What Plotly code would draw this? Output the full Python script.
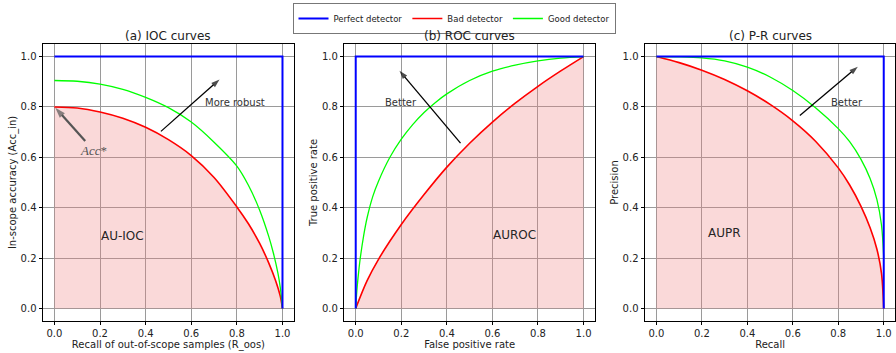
import plotly.graph_objects as go
from plotly.subplots import make_subplots

# ---- axis ticks shared by all three panels ----
tick_vals = [0.0, 0.2, 0.4, 0.6, 0.8, 1.0]
tick_text = ["0.0", "0.2", "0.4", "0.6", "0.8", "1.0"]

# ---- (a) IOC curves: in-scope accuracy vs recall of out-of-scope samples ----
ioc_perfect_x = [0.0, 1.0, 1.0]
ioc_perfect_y = [1.0, 1.0, 0.0]
ioc_bad_x = [0.0, 0.1, 0.2, 0.3, 0.4, 0.5, 0.6, 0.7, 0.8, 0.85, 0.9, 0.94, 0.97, 0.99, 1.0]
ioc_bad_y = [0.800, 0.796, 0.780, 0.755, 0.719, 0.670, 0.607, 0.520, 0.403, 0.337, 0.258,
             0.180, 0.110, 0.050, 0.0]
ioc_good_x = [0.0, 0.1, 0.2, 0.3, 0.4, 0.5, 0.6, 0.7, 0.8, 0.85, 0.9, 0.94, 0.96, 0.98, 0.99, 1.0]
ioc_good_y = [0.905, 0.902, 0.891, 0.870, 0.838, 0.797, 0.740, 0.660, 0.565, 0.490, 0.390,
              0.285, 0.220, 0.140, 0.085, 0.0]

# ---- (b) ROC curves: true positive rate vs false positive rate ----
roc_perfect_x = [0.0, 0.0, 1.0]
roc_perfect_y = [0.0, 1.0, 1.0]
roc_bad_x = [0.0, 0.05, 0.1, 0.2, 0.3, 0.4, 0.5, 0.6, 0.7, 0.8, 0.9, 1.0]
roc_bad_y = [0.0, 0.110, 0.195, 0.333, 0.452, 0.561, 0.656, 0.740, 0.815, 0.882, 0.943, 1.0]
roc_good_x = [0.0, 0.005, 0.01, 0.02, 0.035, 0.05, 0.075, 0.1, 0.15, 0.2, 0.25, 0.3, 0.35,
              0.4, 0.5, 0.6, 0.7, 0.8, 0.9, 1.0]
roc_good_y = [0.0, 0.070, 0.120, 0.200, 0.290, 0.360, 0.445, 0.505, 0.600, 0.672, 0.730, 0.778,
              0.818, 0.852, 0.905, 0.942, 0.966, 0.983, 0.994, 1.0]

# ---- (c) P-R curves: precision vs recall ----
pr_perfect_x = [0.0, 1.0, 1.0]
pr_perfect_y = [1.0, 1.0, 0.0]
pr_bad_x = [0.0, 0.1, 0.2, 0.3, 0.4, 0.5, 0.6, 0.7, 0.8, 0.85, 0.9, 0.94, 0.97, 0.99, 1.0]
pr_bad_y = [1.0, 0.976, 0.946, 0.909, 0.864, 0.810, 0.745, 0.664, 0.558, 0.490, 0.405, 0.320,
            0.235, 0.140, 0.0]
pr_good_x = [0.0, 0.1, 0.2, 0.3, 0.4, 0.5, 0.6, 0.7, 0.8, 0.85, 0.9, 0.94, 0.97, 0.99, 1.0]
pr_good_y = [1.0, 0.999, 0.995, 0.983, 0.958, 0.919, 0.865, 0.797, 0.714, 0.662, 0.592, 0.516,
             0.432, 0.332, 0.200]

panel_titles = ["(a) IOC curves", "(b) ROC curves", "(c) P-R curves"]
x_titles = ["Recall of out-of-scope samples (R_oos)", "False positive rate", "Recall"]
y_titles = ["In-scope accuracy (Acc_in)", "True positive rate", "Precision"]
area_labels = ["AU-IOC", "AUROC", "AUPR"]

BLUE = "#0000ff"
RED = "#ff0000"
GREEN = "#00ff00"
FILL = "rgba(240,128,128,0.3)"
FONT = "DejaVu Sans, Noto Sans, sans-serif"

fig = make_subplots(rows=1, cols=3)

panels = [
    (ioc_perfect_x, ioc_perfect_y, ioc_bad_x, ioc_bad_y, ioc_good_x, ioc_good_y),
    (roc_perfect_x, roc_perfect_y, roc_bad_x, roc_bad_y, roc_good_x, roc_good_y),
    (pr_perfect_x, pr_perfect_y, pr_bad_x, pr_bad_y, pr_good_x, pr_good_y),
]

for i, (px, py, bx, by, gx, gy) in enumerate(panels):
    col = i + 1
    first = i == 0
    # shaded area under the bad detector curve
    fig.add_trace(go.Scatter(x=bx, y=by, mode="lines",
                             line=dict(width=0, shape="spline", smoothing=0.9),
                             fill="tozeroy", fillcolor=FILL, hoverinfo="skip",
                             showlegend=False), row=1, col=col)
    fig.add_trace(go.Scatter(x=bx, y=by, mode="lines", name="Bad detector",
                             line=dict(color=RED, width=1.6, shape="spline", smoothing=0.9),
                             legendrank=2, showlegend=first), row=1, col=col)
    fig.add_trace(go.Scatter(x=gx, y=gy, mode="lines", name="Good detector",
                             line=dict(color=GREEN, width=1.3, shape="spline", smoothing=0.9),
                             legendrank=3, showlegend=first), row=1, col=col)
    # the ideal detector is drawn on top of the other two
    fig.add_trace(go.Scatter(x=px, y=py, mode="lines", name="Perfect detector",
                             line=dict(color=BLUE, width=2), legendrank=1,
                             showlegend=first), row=1, col=col)

# direction arrows drawn as two-point traces with an arrow marker at the head
# (tail x, head x), (tail y, head y)
arrows = [
    (1, [0.467, 0.724], [0.703, 0.909], "black", 1.3, 9),
    (2, [0.46, 0.192], [0.656, 0.944], "black", 1.3, 9),
    (3, [0.631, 0.886], [0.766, 0.96], "black", 1.3, 9),
    (1, [0.135, 0.004], [0.665, 0.797], "#555555", 2.2, 11),
]
for col, ax_x, ax_y, color, width, head in arrows:
    fig.add_trace(go.Scatter(x=ax_x, y=ax_y, mode="lines+markers",
                             line=dict(color=color, width=width),
                             marker=dict(symbol=["circle", "arrow"], size=[0, head], color=color,
                                         angleref="previous", line=dict(width=0)),
                             hoverinfo="skip", showlegend=False), row=1, col=col)

x_domains = [[0.048, 0.328], [0.3843, 0.664], [0.7199, 0.999]]
y_domain = [0.0907, 0.8754]

for i in range(3):
    col = i + 1
    fig.update_xaxes(domain=x_domains[i], range=[-0.05, 1.05], tickmode="array",
                     tickvals=tick_vals, ticktext=tick_text, ticks="outside", ticklen=3.5,
                     tickwidth=0.8, tickcolor="black", showline=True, linecolor="black",
                     linewidth=1, mirror=True, showgrid=True, gridcolor="#9a9a9a",
                     gridwidth=1, zeroline=False, tickfont=dict(size=10, color="#222"),
                     title=dict(text=x_titles[i], font=dict(size=10, color="#222"), standoff=2),
                     row=1, col=col)
    fig.update_yaxes(domain=y_domain, range=[-0.05, 1.05], tickmode="array",
                     tickvals=tick_vals, ticktext=tick_text, ticks="outside", ticklen=3.5,
                     tickwidth=0.8, tickcolor="black", showline=True, linecolor="black",
                     linewidth=1, mirror=True, showgrid=True, gridcolor="#9a9a9a",
                     gridwidth=1, zeroline=False, tickfont=dict(size=10, color="#222"),
                     title=dict(text=y_titles[i], font=dict(size=10, color="#222"), standoff=2),
                     row=1, col=col)

axis_ids = [("x", "y"), ("x2", "y2"), ("x3", "y3")]

# panel titles
for i, (xa, ya) in enumerate(axis_ids):
    fig.add_annotation(text=panel_titles[i], xref=f"{xa} domain", yref=f"{ya} domain",
                       x=0.5, y=1.0, xanchor="center", yanchor="bottom", yshift=-1,
                       showarrow=False, font=dict(size=12, color="#222"))

# area labels
area_pos = [(0.298, 0.286), (0.695, 0.293), (0.30, 0.299)]
for i, (xa, ya) in enumerate(axis_ids):
    fig.add_annotation(text=area_labels[i], xref=xa, yref=ya, x=area_pos[i][0], y=area_pos[i][1],
                       showarrow=False, font=dict(size=12, color="#262626"))

arrow_labels = [("x", "y", 0.794, 0.819, "More robust"),
                ("x2", "y2", 0.198, 0.819, "Better"),
                ("x3", "y3", 0.839, 0.819, "Better")]
for xa, ya, tx, ty, txt in arrow_labels:
    fig.add_annotation(text=txt, xref=xa, yref=ya, x=tx, y=ty, showarrow=False,
                       font=dict(size=10, color="#333"))

# optimal in-scope accuracy label
fig.add_annotation(text="<i>Acc</i>*", xref="x", yref="y", x=0.173, y=0.626,
                   showarrow=False, font=dict(size=13, color="#555", family="Liberation Serif, serif"))

fig.update_layout(
    width=896, height=353, autosize=False,
    margin=dict(l=0, r=0, t=0, b=0),
    plot_bgcolor="white", paper_bgcolor="white",
    font=dict(family=FONT, size=10, color="#222"),
    legend=dict(orientation="h", x=0.5067, xanchor="center", y=0.9915, yanchor="top",
                bordercolor="#777", borderwidth=1, bgcolor="white",
                font=dict(size=8.5, color="#222"), itemwidth=30,
                traceorder="normal"),
)

fig.write_html("out.html")
